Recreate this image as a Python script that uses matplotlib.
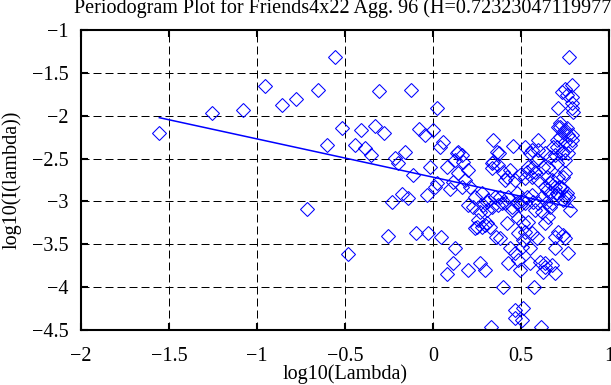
import matplotlib.pyplot as plt
import numpy as np

plt.rcParams["font.family"] = ["Liberation Serif", "DejaVu Serif"]

TITLE = "Periodogram Plot for Friends4x22 Agg. 96 (H=0.72323047119977)"
HURST = 0.72323047119977
INTERCEPT = -2.717

x_ticks = [-2, -1.5, -1, -0.5, 0, 0.5, 1]
y_ticks = [-4.5, -4, -3.5, -3, -2.5, -2, -1.5, -1]

# log10(lambda)
log_lambda = [
    -1.555, -1.256, -1.078, -0.955, -0.858, -0.778, -0.714, -0.655, -0.604, -0.559,
    -0.515, -0.481, -0.443, -0.409, -0.386, -0.354, -0.330, -0.305, -0.278, -0.254,
    -0.235, -0.216, -0.197, -0.178, -0.159, -0.140, -0.127, -0.115, -0.097, -0.078,
    -0.045, -0.036, -0.027, -0.017, 0.002, 0.011, 0.021, 0.021, 0.040, 0.044,
    0.059, 0.078, 0.081, 0.097,
    0.115, 0.115, 0.125, 0.125, 0.135, 0.144, 0.144, 0.163, 0.163, 0.172,
    0.182, 0.198, 0.200, 0.200, 0.210, 0.229, 0.239, 0.239, 0.248, 0.257,
    0.267, 0.267, 0.276, 0.276, 0.286, 0.295, 0.295, 0.305, 0.305, 0.305,
    0.314, 0.324, 0.330, 0.333, 0.333, 0.333, 0.341, 0.339, 0.352, 0.357,
    0.362, 0.371, 0.371, 0.377, 0.381, 0.381, 0.390, 0.400, 0.400, 0.409,
    0.409, 0.419, 0.419, 0.428, 0.428, 0.4375, 0.4375, 0.447, 0.447, 0.457,
    0.466, 0.466, 0.466, 0.466, 0.476, 0.476, 0.485, 0.485, 0.485, 0.494,
    0.494, 0.494, 0.504, 0.504, 0.504, 0.513, 0.513, 0.513, 0.523, 0.523,
    0.523, 0.523, 0.532, 0.532, 0.542, 0.542, 0.551, 0.551, 0.551, 0.561,
    0.561, 0.561, 0.561, 0.570, 0.570, 0.574, 0.580, 0.580, 0.589, 0.589,
    0.599, 0.599, 0.599, 0.599, 0.608, 0.613, 0.617, 0.617, 0.627, 0.627,
    0.636, 0.636, 0.636, 0.636, 0.636, 0.646, 0.646, 0.646, 0.655, 0.655,
    0.665, 0.665, 0.665, 0.665, 0.674, 0.674, 0.674, 0.684, 0.693, 0.693,
    0.693, 0.693, 0.693, 0.703, 0.703, 0.703, 0.703, 0.712, 0.712, 0.712,
    0.712, 0.712, 0.722, 0.722, 0.722, 0.722, 0.731, 0.731, 0.731, 0.740,
    0.740, 0.740, 0.740, 0.740, 0.750, 0.750, 0.750, 0.750, 0.750, 0.750,
    0.750, 0.760, 0.760, 0.760, 0.769, 0.769, 0.769, 0.769, 0.775, 0.778,
    0.778, 0.788, 0.788, 0.788, 0.788, 0.788, 0.788, 0.795,
]

# log10(I(lambda)), same order
log_periodogram = [
    -2.205, -1.965, -1.933, -1.653, -1.871, -1.800, -3.092, -1.700, -2.342, -1.311,
    -2.147, -3.614, -2.342, -2.167, -2.380, -2.459, -2.120, -1.708, -2.206, -3.404,
    -3.011, -2.497, -2.556, -2.914, -2.420, -2.964, -1.700, -2.692, -3.365, -2.159,
    -2.225, -2.925, -3.365, -2.595, -2.167, -2.828, -1.914, -2.789, -2.361, -3.419,
    -2.303, -2.595, -3.847, -2.859,
    -2.770, -3.722, -2.517, -3.547, -2.439, -2.420, -2.673, -2.459, -2.828, -2.536,
    -2.750, -3.797, -2.633, -3.042, -2.828, -3.062, -2.945, -3.314, -3.295, -3.217,
    -3.722, -3.120, -2.906, -3.295, -3.042, -3.275, -3.800, -3.256, -3.003, -3.100,
    -2.984, -3.295, -4.460, -2.556, -2.614, -3.062, -2.288, -2.536, -2.945, -3.412,
    -2.420, -2.575, -3.042, -2.439, -3.431, -2.945, -3.022, -2.653, -3.995, -2.750,
    -3.022, -2.712, -3.248, -2.945, -3.722, -2.633, -3.547, -3.062, -3.100, -2.357,
    -2.750, -3.605, -4.267, -4.364, -2.906, -3.022, -3.197, -3.373, -3.684, -2.692,
    -3.042, -3.800, -2.984, -3.528, -4.384, -3.256, -3.450, -4.247, -2.361, -2.730,
    -3.022, -3.353, -2.945, -2.653, -2.595, -3.236, -2.439, -3.547, -3.722, -2.400,
    -2.712, -2.925, -3.373, -2.595, -3.003, -3.995, -2.653, -3.100, -2.517, -3.430,
    -2.284, -2.400, -2.750, -3.022, -3.703, -4.466, -2.945, -3.120, -2.595, -3.820,
    -2.439, -2.828, -3.256, -3.722, -3.762, -3.003, -2.712, -2.867, -2.595, -3.178,
    -2.478, -2.906, -2.789, -3.062, -2.750, -3.022, -3.742, -2.361, -2.459, -2.828,
    -3.412, -3.547, -3.839, -2.284, -2.361, -2.556, -2.906, -1.914, -2.136, -2.712,
    -2.925, -3.353, -2.089, -2.128, -2.245, -2.828, -1.720, -2.439, -2.847, -2.186,
    -2.420, -2.712, -2.984, -3.392, -1.692, -2.167, -2.303, -2.517, -2.673, -2.945,
    -3.431, -1.758, -2.147, -2.906, -2.225, -2.439, -2.945, -3.605, -1.311, -2.342,
    -3.100, -1.642, -1.778, -1.855, -1.914, -2.225, -2.284, -1.953,
]

FONT_SIZE = 14.5


def main():
    x = np.asarray(log_lambda, dtype=float)
    y = np.asarray(log_periodogram, dtype=float)
    slope = 1 - 2 * HURST
    fit_x = np.array([x.min(), x.max()])
    fit_y = INTERCEPT + slope * fit_x

    fig = plt.figure(figsize=(6.11, 3.85), dpi=100)
    ax = fig.add_axes([81 / 611, 55 / 385, 528 / 611, 300 / 385])

    ax.plot(x, y, linestyle="none", marker="D", markersize=7.0,
            markerfacecolor="none", markeredgecolor="#0000ff", markeredgewidth=0.75)
    ax.plot(fit_x, fit_y, color="#0000ff", linewidth=1.1)

    ax.set_xlim(-2, 1)
    ax.set_ylim(-4.5, -1)
    ax.set_xticks(x_ticks)
    ax.set_yticks(y_ticks)
    ax.set_xticklabels([f"{t:g}".replace("-", "\u2212") for t in x_ticks])
    ax.set_yticklabels([f"{t:g}".replace("-", "\u2212") for t in y_ticks])

    ax.grid(True, color="black", linewidth=0.72, linestyle=(0, (8, 4)))
    ax.set_axisbelow(True)
    for side in ax.spines.values():
        side.set_linewidth(1.5)
    ax.tick_params(axis="both", direction="in", length=5, width=1.5,
                   top=True, right=True, labelsize=FONT_SIZE, colors="black")
    ax.tick_params(axis="x", pad=12)
    ax.tick_params(axis="y", pad=9)

    ax.set_xlabel("log10(Lambda)", fontsize=FONT_SIZE)
    ax.set_ylabel("log10(I(lambda))", fontsize=FONT_SIZE)
    ax.xaxis.set_label_coords(0.5, -0.115)
    ax.yaxis.set_label_coords(-0.112, 0.5)
    fig.text(74 / 611, 1 - 12.5 / 385, TITLE, fontsize=FONT_SIZE, ha="left", va="baseline")

    fig.savefig("out.png", dpi=100)
    plt.close(fig)


if __name__ == "__main__":
    main()
